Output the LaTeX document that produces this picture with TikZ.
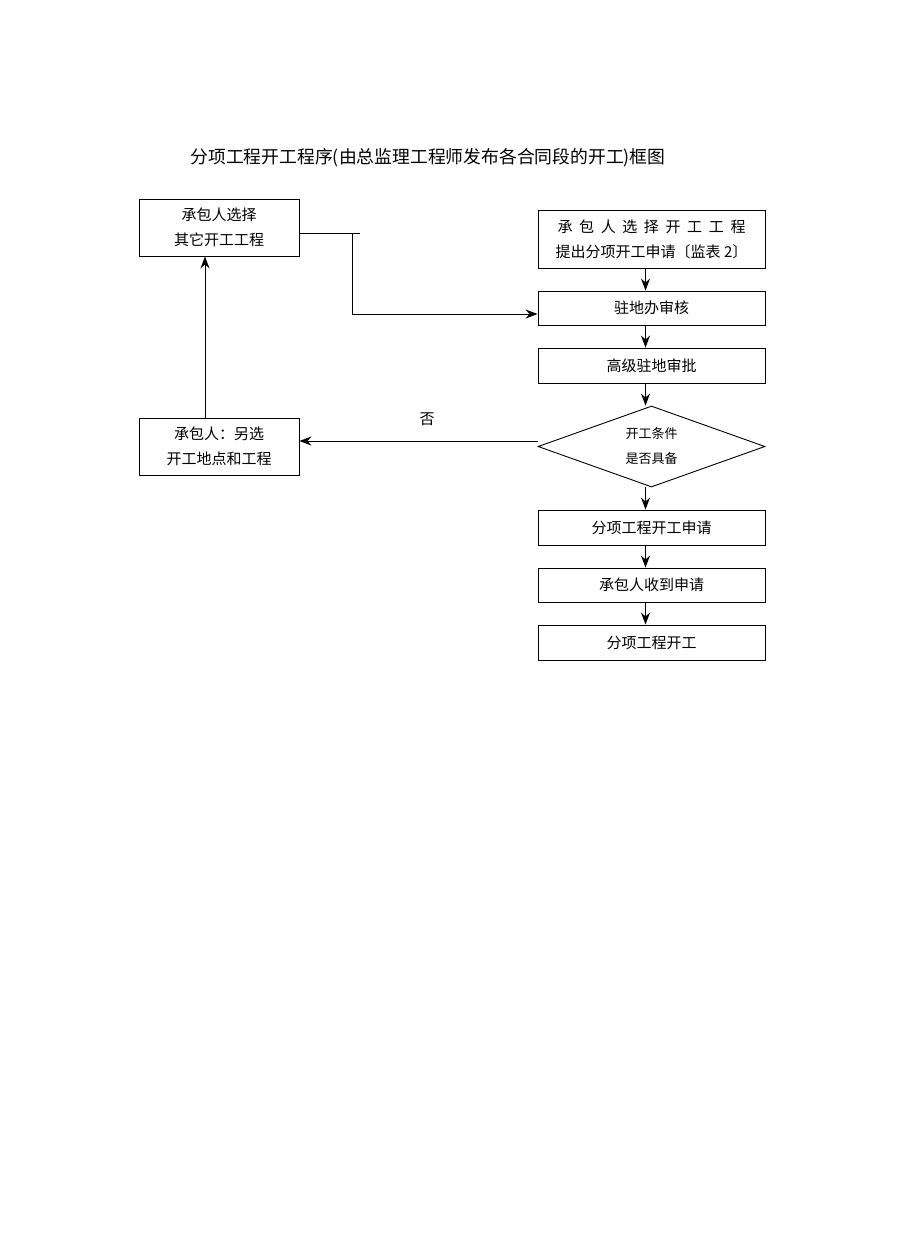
\documentclass[tikz,border=0pt]{standalone}
\usepackage{fontspec}
\setmainfont{Noto Sans CJK SC}
\usepackage{tikz}
\usetikzlibrary{shapes,shapes.geometric,arrows.meta,positioning,calc}

\begin{document}
\begin{tikzpicture}[x=1pt,y=-1pt,
  box/.style={draw, line width=0.9pt, inner sep=0pt, align=center, font=\fontsize{15}{25}\selectfont},
  wide/.style={box, minimum width=227pt},
  narrow/.style={box, minimum width=160pt, minimum height=57pt},
  decision/.style={draw, line width=0.9pt, diamond, aspect=2.8, inner sep=0pt, minimum width=227pt, minimum height=81pt, align=center, font=\fontsize{13}{25}\selectfont},
  arr/.style={line width=1pt, -{Stealth[length=12pt,width=9pt,inset=4pt]}},
  line/.style={line width=1pt}]
\useasboundingbox (0,0) rectangle (920,1245);
\node[] (title) at (428,158) {\fontsize{17.8}{20}\selectfont 分项工程开工程序(由总监理工程师发布各合同段的开工)框图};
\node[narrow] (L1) at (219,227.5) {承包人选择\\其它开工工程};
\node[narrow] (L2) at (219,446.5) {承包人：另选\\开工地点和工程};
\node[wide, minimum height=58pt] (R1) at (651.5,239) {\makebox[188pt][s]{承\hfill 包\hfill 人\hfill 选\hfill 择\hfill 开\hfill 工\hfill 工\hfill 程}\\提出分项开工申请〔监表 2〕};
\node[wide, minimum height=34pt] (R2) at (651.5,308) {驻地办审核};
\node[wide, minimum height=35pt] (R3) at (651.5,365.5) {高级驻地审批};
\node[decision] (Q) at (651.5,446.5) {开工条件\\是否具备};
\node[wide, minimum height=35pt] (R4) at (651.5,527.5) {分项工程开工申请};
\node[wide, minimum height=34pt] (R5) at (651.5,585) {承包人收到申请};
\node[wide, minimum height=35pt] (R6) at (651.5,642.5) {分项工程开工};
\node[font=\fontsize{15}{18}\selectfont] (no) at (427,419) {否};
\coordinate (T1) at (360,233);
\coordinate (T2) at (352,233);
\coordinate (T3) at (352,314);
% main line
\draw[arr] ([xshift=-6pt]R1.south) -- ([xshift=-6pt]R2.north);
\draw[arr] ([xshift=-6pt]R2.south) -- ([xshift=-6pt]R3.north);
\draw[arr] ([xshift=-6pt]R3.south) -- ([xshift=-6pt]Q.north);
\draw[arr] ([xshift=-6pt]Q.south) -- ([xshift=-6pt]R4.north);
\draw[arr] ([xshift=-6pt]R4.south) -- ([xshift=-6pt]R5.north);
\draw[arr] ([xshift=-6pt]R5.south) -- ([xshift=-6pt]R6.north);
% loop back
\draw[arr] ([yshift=5.5pt]Q.west) -- ([yshift=5.5pt]L2.east);
\draw[arr] ([xshift=-14pt]L2.north) -- ([xshift=-14pt]L1.south);
\draw[line] ([yshift=-5.5pt]L1.east) -- (T1);
\draw[arr] (T2) -- (T3) -- (T3 -| R2.west);
\end{tikzpicture}
\end{document}
